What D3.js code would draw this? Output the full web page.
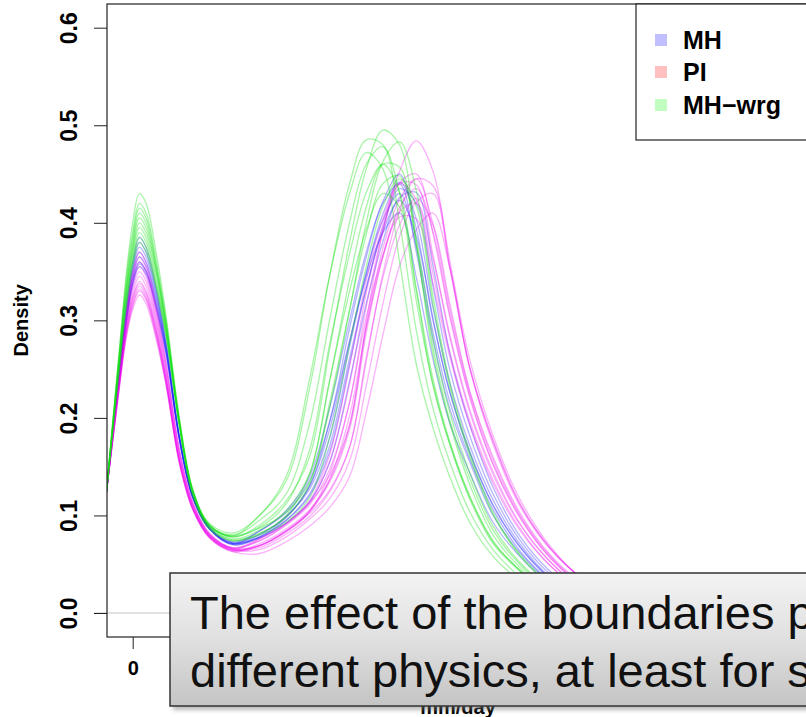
<!DOCTYPE html>
<html>
<head>
<meta charset="utf-8">
<script src="https://cdn.jsdelivr.net/npm/d3@7"></script>
<style>
  body { margin: 0; background: #fff; }
  svg { display: block; font-family: "Liberation Sans", Arial, sans-serif; }
</style>
</head>
<body>
<svg id="chart" width="806" height="717"></svg>
<script>
const xGrid = [-0.8, -0.4, -0.2, 0, 0.2, 0.4, 0.7, 1.0, 1.4, 1.8, 2.3, 3.0, 3.8, 4.6, 5.3, 5.9,
               6.5, 7.0, 7.5, 8.0, 8.5, 9.0, 9.5, 10.1, 10.8, 11.6, 12.5, 13.5, 15.0];

// MH ensemble
const mhCurves = [
  [0.12, 0.252, 0.314, 0.36, 0.385, 0.375, 0.334, 0.278, 0.182, 0.12, 0.087, 0.072, 0.081, 0.099, 0.127, 0.179, 0.273, 0.348, 0.409, 0.442, 0.404, 0.313, 0.237, 0.172, 0.116, 0.071, 0.037, 0.015, 0.002],
  [0.12, 0.25, 0.31, 0.355, 0.38, 0.37, 0.33, 0.275, 0.18, 0.12, 0.088, 0.073, 0.084, 0.105, 0.14, 0.21, 0.30, 0.37, 0.42, 0.44, 0.37, 0.28, 0.21, 0.155, 0.10, 0.062, 0.032, 0.012, 0.001],
  [0.12, 0.248, 0.307, 0.351, 0.375, 0.365, 0.327, 0.273, 0.18, 0.119, 0.087, 0.072, 0.077, 0.092, 0.114, 0.154, 0.238, 0.317, 0.381, 0.426, 0.431, 0.356, 0.267, 0.193, 0.129, 0.079, 0.043, 0.018, 0.003],
  [0.12, 0.246, 0.304, 0.347, 0.37, 0.36, 0.323, 0.272, 0.18, 0.12, 0.087, 0.071, 0.08, 0.099, 0.13, 0.188, 0.278, 0.349, 0.403, 0.43, 0.376, 0.288, 0.217, 0.158, 0.106, 0.064, 0.033, 0.013, 0.002],
  [0.12, 0.244, 0.301, 0.343, 0.365, 0.356, 0.32, 0.27, 0.179, 0.119, 0.086, 0.07, 0.078, 0.095, 0.12, 0.165, 0.255, 0.333, 0.395, 0.435, 0.42, 0.335, 0.25, 0.182, 0.122, 0.075, 0.04, 0.016, 0.002],
  [0.12, 0.242, 0.298, 0.34, 0.36, 0.351, 0.316, 0.268, 0.178, 0.118, 0.086, 0.07, 0.077, 0.095, 0.122, 0.171, 0.261, 0.333, 0.391, 0.423, 0.386, 0.30, 0.227, 0.164, 0.111, 0.068, 0.036, 0.014, 0.002],
  [0.12, 0.241, 0.297, 0.338, 0.358, 0.35, 0.315, 0.267, 0.178, 0.119, 0.087, 0.071, 0.084, 0.103, 0.136, 0.196, 0.292, 0.365, 0.422, 0.45, 0.394, 0.302, 0.227, 0.166, 0.11, 0.068, 0.035, 0.013, 0.002],
  [0.12, 0.24, 0.295, 0.336, 0.355, 0.347, 0.312, 0.265, 0.177, 0.118, 0.086, 0.071, 0.078, 0.098, 0.13, 0.195, 0.279, 0.344, 0.39, 0.41, 0.344, 0.26, 0.195, 0.144, 0.093, 0.058, 0.03, 0.011, 0.001]
];

// PI ensemble
const piCurves = [
  [0.12, 0.248, 0.307, 0.35, 0.37, 0.359, 0.316, 0.258, 0.168, 0.114, 0.082, 0.067, 0.076, 0.092, 0.113, 0.141, 0.193, 0.298, 0.392, 0.453, 0.484, 0.453, 0.362, 0.26, 0.182, 0.117, 0.069, 0.034, 0.007],
  [0.12, 0.246, 0.304, 0.346, 0.365, 0.354, 0.312, 0.255, 0.166, 0.113, 0.081, 0.067, 0.074, 0.09, 0.111, 0.147, 0.216, 0.314, 0.391, 0.441, 0.45, 0.389, 0.304, 0.221, 0.152, 0.098, 0.057, 0.027, 0.004],
  [0.12, 0.244, 0.301, 0.342, 0.36, 0.35, 0.308, 0.252, 0.165, 0.112, 0.081, 0.066, 0.069, 0.083, 0.102, 0.126, 0.17, 0.258, 0.348, 0.412, 0.445, 0.438, 0.355, 0.252, 0.177, 0.113, 0.067, 0.034, 0.006],
  [0.12, 0.242, 0.298, 0.337, 0.355, 0.345, 0.304, 0.249, 0.163, 0.111, 0.08, 0.066, 0.074, 0.091, 0.113, 0.155, 0.235, 0.328, 0.398, 0.44, 0.439, 0.367, 0.286, 0.209, 0.145, 0.092, 0.053, 0.024, 0.004],
  [0.12, 0.24, 0.295, 0.332, 0.35, 0.34, 0.30, 0.245, 0.16, 0.11, 0.08, 0.066, 0.069, 0.084, 0.104, 0.134, 0.188, 0.287, 0.366, 0.416, 0.435, 0.391, 0.307, 0.223, 0.153, 0.099, 0.057, 0.028, 0.005],
  [0.12, 0.238, 0.292, 0.328, 0.345, 0.335, 0.296, 0.242, 0.158, 0.109, 0.079, 0.065, 0.065, 0.078, 0.096, 0.117, 0.156, 0.233, 0.317, 0.386, 0.421, 0.43, 0.356, 0.252, 0.176, 0.112, 0.067, 0.035, 0.007],
  [0.12, 0.236, 0.289, 0.324, 0.34, 0.33, 0.292, 0.24, 0.157, 0.108, 0.079, 0.065, 0.076, 0.092, 0.115, 0.162, 0.253, 0.341, 0.404, 0.44, 0.424, 0.348, 0.268, 0.197, 0.136, 0.087, 0.049, 0.022, 0.003],
  [0.12, 0.235, 0.288, 0.322, 0.338, 0.328, 0.29, 0.239, 0.156, 0.108, 0.078, 0.065, 0.067, 0.081, 0.099, 0.124, 0.17, 0.262, 0.344, 0.398, 0.425, 0.398, 0.318, 0.228, 0.16, 0.103, 0.06, 0.03, 0.006],
  [0.12, 0.234, 0.286, 0.319, 0.335, 0.325, 0.288, 0.237, 0.155, 0.107, 0.078, 0.064, 0.069, 0.084, 0.104, 0.137, 0.202, 0.293, 0.365, 0.411, 0.42, 0.363, 0.283, 0.206, 0.142, 0.091, 0.053, 0.025, 0.004],
  [0.12, 0.233, 0.284, 0.316, 0.332, 0.323, 0.286, 0.236, 0.155, 0.107, 0.078, 0.064, 0.071, 0.086, 0.106, 0.136, 0.192, 0.293, 0.374, 0.424, 0.445, 0.399, 0.313, 0.227, 0.157, 0.101, 0.059, 0.028, 0.005],
  [0.12, 0.232, 0.283, 0.315, 0.33, 0.321, 0.284, 0.235, 0.154, 0.106, 0.077, 0.063, 0.061, 0.073, 0.089, 0.108, 0.14, 0.206, 0.285, 0.356, 0.393, 0.41, 0.354, 0.251, 0.173, 0.11, 0.066, 0.035, 0.007],
  [0.12, 0.23, 0.28, 0.311, 0.326, 0.317, 0.281, 0.233, 0.153, 0.106, 0.077, 0.063, 0.069, 0.084, 0.104, 0.143, 0.216, 0.303, 0.367, 0.406, 0.404, 0.338, 0.263, 0.193, 0.133, 0.085, 0.049, 0.023, 0.004]
];

// MH-wrg ensemble
const wrgCurves = [
  [0.12, 0.27, 0.345, 0.40, 0.43, 0.42, 0.37, 0.305, 0.20, 0.127, 0.09, 0.078, 0.09, 0.115, 0.16, 0.27, 0.38, 0.455, 0.495, 0.48, 0.38, 0.265, 0.195, 0.132, 0.08, 0.047, 0.021, 0.007, 0.001],
  [0.12, 0.268, 0.34, 0.39, 0.42, 0.41, 0.362, 0.30, 0.198, 0.126, 0.09, 0.079, 0.10, 0.135, 0.23, 0.345, 0.44, 0.485, 0.48, 0.40, 0.29, 0.21, 0.155, 0.104, 0.065, 0.037, 0.015, 0.005, 0.0],
  [0.12, 0.265, 0.335, 0.385, 0.415, 0.405, 0.358, 0.298, 0.197, 0.125, 0.09, 0.078, 0.087, 0.103, 0.134, 0.21, 0.31, 0.40, 0.463, 0.483, 0.433, 0.325, 0.237, 0.165, 0.103, 0.06, 0.031, 0.011, 0.002],
  [0.12, 0.265, 0.33, 0.38, 0.41, 0.40, 0.355, 0.295, 0.195, 0.125, 0.09, 0.08, 0.095, 0.122, 0.194, 0.30, 0.40, 0.46, 0.478, 0.43, 0.32, 0.235, 0.173, 0.117, 0.071, 0.043, 0.018, 0.006, 0.001],
  [0.12, 0.262, 0.328, 0.375, 0.405, 0.395, 0.352, 0.294, 0.196, 0.126, 0.092, 0.082, 0.10, 0.14, 0.24, 0.345, 0.43, 0.472, 0.455, 0.36, 0.255, 0.19, 0.14, 0.093, 0.058, 0.033, 0.013, 0.004, 0.0],
  [0.12, 0.26, 0.325, 0.372, 0.40, 0.39, 0.35, 0.292, 0.195, 0.124, 0.089, 0.076, 0.085, 0.105, 0.143, 0.237, 0.342, 0.416, 0.46, 0.457, 0.376, 0.272, 0.198, 0.138, 0.085, 0.05, 0.024, 0.009, 0.001],
  [0.12, 0.258, 0.322, 0.368, 0.395, 0.385, 0.345, 0.29, 0.194, 0.124, 0.09, 0.079, 0.088, 0.112, 0.167, 0.275, 0.368, 0.431, 0.46, 0.431, 0.333, 0.24, 0.176, 0.12, 0.074, 0.044, 0.02, 0.007, 0.001],
  [0.12, 0.255, 0.318, 0.363, 0.39, 0.38, 0.34, 0.287, 0.193, 0.123, 0.088, 0.075, 0.082, 0.098, 0.132, 0.215, 0.311, 0.388, 0.44, 0.448, 0.383, 0.282, 0.206, 0.144, 0.089, 0.052, 0.026, 0.01, 0.001],
  [0.12, 0.252, 0.315, 0.36, 0.385, 0.375, 0.337, 0.285, 0.192, 0.122, 0.087, 0.074, 0.08, 0.093, 0.118, 0.18, 0.275, 0.355, 0.417, 0.445, 0.417, 0.317, 0.232, 0.161, 0.101, 0.059, 0.029, 0.011, 0.002],
  [0.12, 0.25, 0.31, 0.355, 0.38, 0.37, 0.333, 0.283, 0.19, 0.12, 0.086, 0.074, 0.081, 0.10, 0.142, 0.238, 0.33, 0.393, 0.43, 0.416, 0.33, 0.233, 0.174, 0.119, 0.073, 0.044, 0.02, 0.007, 0.001]
];

const yTicks = [0, 0.1, 0.2, 0.3, 0.4, 0.5, 0.6];
// only the 0 tick shows; the rest of the axis sits under the note
const xTicks = [0];
const legendLabels = ["MH", "PI", "MH\u2212wrg"];
const noteLines = ["The effect of the boundaries p", "different physics, at least for s"];

const svg = d3.select("#chart");

// plot box (right side runs off the page, like the slide)
const box = { left: 107, right: 812, top: 4, bottom: 637 };
const x = d3.scaleLinear().domain([-0.8, 20.3]).range([106, 810]);
const y = d3.scaleLinear().domain([0, 0.6]).range([613, 27.7]);

svg.append("clipPath").attr("id", "plotclip")
  .append("rect")
  .attr("x", box.left).attr("y", box.top)
  .attr("width", box.right - box.left).attr("height", box.bottom - box.top);

// zero line
svg.append("line")
  .attr("x1", 94).attr("x2", box.right)
  .attr("y1", y(0)).attr("y2", y(0))
  .attr("stroke", "#c4c4c4").attr("stroke-width", 1);

const line = d3.line()
  .x((d, i) => x(xGrid[i]))
  .y(d => y(d))
  .curve(d3.curveCatmullRom.alpha(0.5));

const groups = [
  { curves: mhCurves, color: "#1a1aff", opacity: 0.32 },
  { curves: piCurves, color: "#f000f0", opacity: 0.3 },
  { curves: wrgCurves, color: "#10e010", opacity: 0.36 }
];

const plotG = svg.append("g").attr("clip-path", "url(#plotclip)");
groups.forEach(gr => {
  plotG.append("g")
    .selectAll("path")
    .data(gr.curves)
    .join("path")
    .attr("d", line)
    .attr("fill", "none")
    .attr("stroke", gr.color)
    .attr("stroke-opacity", gr.opacity)
    .attr("stroke-width", 1.3);
});

// box
svg.append("rect")
  .attr("x", box.left).attr("y", box.top)
  .attr("width", box.right - box.left).attr("height", box.bottom - box.top)
  .attr("fill", "none").attr("stroke", "#222").attr("stroke-width", 1.2);

// y axis
const gy = svg.append("g")
  .attr("transform", `translate(${box.left},0)`)
  .call(d3.axisLeft(y).tickValues(yTicks).tickSize(13).tickFormat(d3.format(".1f")));
gy.select(".domain").remove();
gy.selectAll(".tick line").attr("stroke", "#222");
gy.selectAll(".tick text")
  .attr("x", 0).attr("dy", 0)
  .attr("text-anchor", "middle")
  .attr("transform", "translate(-30,0) rotate(-90)")
  .attr("fill", "#000")
  .style("font-size", "23px").style("font-weight", "bold")
  .style("font-family", "'Liberation Sans', Arial, sans-serif");

svg.append("text")
  .attr("transform", `translate(28,${y(0.3)}) rotate(-90)`)
  .attr("text-anchor", "middle")
  .style("font-size", "20px").style("font-weight", "bold")
  .text("Density");

// x axis
const gx = svg.append("g")
  .attr("transform", `translate(0,${box.bottom})`)
  .call(d3.axisBottom(x).tickValues(xTicks).tickSize(12).tickFormat(d3.format("d")));
gx.select(".domain").remove();
gx.selectAll(".tick line").attr("stroke", "#222");
gx.selectAll(".tick text")
  .attr("y", 38).attr("dy", 0)
  .attr("fill", "#000")
  .style("font-size", "20px").style("font-weight", "bold")
  .style("font-family", "'Liberation Sans', Arial, sans-serif");

svg.append("text")
  .attr("x", 458).attr("y", 714)
  .attr("text-anchor", "middle")
  .style("font-size", "20px").style("font-weight", "bold")
  .text("mm/day");

// legend
const legendColors = ["#c0c0ff", "#ffc0c0", "#c0ffc0"];
const legRows = [40, 72, 105];
const leg = svg.append("g");
leg.append("rect")
  .attr("x", 636).attr("y", box.top)
  .attr("width", 200).attr("height", 136)
  .attr("fill", "#fff").attr("stroke", "#222").attr("stroke-width", 1.2);
const item = leg.selectAll("g.item")
  .data(legendLabels)
  .join("g").attr("class", "item")
  .attr("transform", (d, i) => `translate(0,${legRows[i]})`);
item.append("rect")
  .attr("x", 655).attr("y", -6).attr("width", 12).attr("height", 12)
  .attr("fill", (d, i) => legendColors[i]);
item.append("text")
  .attr("x", 683).attr("dy", "0.36em")
  .style("font-size", "25px").style("font-weight", "bold")
  .text(d => d);

// callout note on top of the chart
const defs = svg.append("defs");
const grad = defs.append("linearGradient").attr("id", "noteFill")
  .attr("x1", 0).attr("y1", 0).attr("x2", 0).attr("y2", 1);
grad.append("stop").attr("offset", "0%").attr("stop-color", "#f3f3f3");
grad.append("stop").attr("offset", "50%").attr("stop-color", "#e0e0e0");
grad.append("stop").attr("offset", "100%").attr("stop-color", "#c4c4c4");
defs.append("filter").attr("id", "soft")
  .append("feGaussianBlur").attr("stdDeviation", 2);

const note = svg.append("g");
note.append("rect")
  .attr("x", 173).attr("y", 577).attr("width", 700).attr("height", 133)
  .attr("fill", "#777").attr("opacity", 0.5).attr("filter", "url(#soft)");
note.append("rect")
  .attr("x", 170).attr("y", 573).attr("width", 700).attr("height", 133)
  .attr("fill", "url(#noteFill)").attr("stroke", "#333").attr("stroke-width", 1.5);
note.selectAll("text")
  .data(noteLines)
  .join("text")
  .attr("x", 190)
  .attr("y", (d, i) => 629 + i * 58)
  .attr("fill", "#111")
  .style("font-size", "47px")
  .text(d => d);
</script>
</body>
</html>
